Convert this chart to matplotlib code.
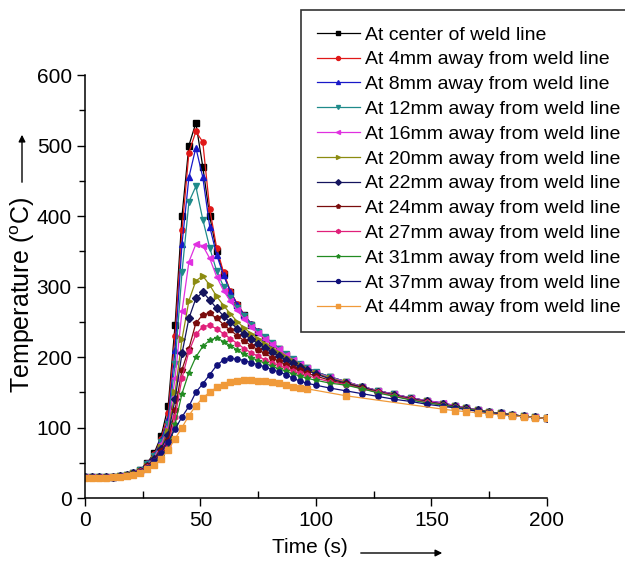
import matplotlib
matplotlib.use("Agg")
import matplotlib.pyplot as plt
from matplotlib.patches import FancyArrowPatch

plt.rcParams['font.family'] = ['Liberation Sans', 'DejaVu Sans']

# time (s)
t = [0, 3, 6, 9, 12, 15, 18, 21, 24, 27, 30, 33, 36, 39, 42, 45, 48, 51, 54, 57,
     60, 63, 66, 69, 72, 75, 78, 81, 84, 87, 90, 93, 96,
     100, 106, 113, 120, 127, 134, 141, 148, 155,
     160, 165, 170, 175, 180, 185, 190, 195, 200]
t_44 = [0, 3, 6, 9, 12, 15, 18, 21, 24, 27, 30, 33, 36, 39, 42, 45, 48, 51, 54, 57,
        60, 63, 66, 69, 72, 75, 78, 81, 84, 87, 90, 93, 96,
        113, 155, 160, 165, 170, 175, 180, 185, 190, 195, 200]

# temperature (C)
T_0 = [30, 30, 30, 30, 30, 31, 32, 35, 40, 50, 64, 88, 130, 245, 400, 500, 532, 470, 400, 350,
       318, 292, 274, 259, 246, 236, 227, 219, 211, 203, 196, 189, 184,
       178, 171, 165, 158, 152, 147, 142, 138, 134,
       131, 128, 125, 122, 120, 118, 116, 114.5, 113]
T_4 = [30, 30, 30, 30, 30, 31, 32, 35, 40, 49, 62, 84, 120, 230, 380, 490, 520, 505, 410, 355,
       320, 293, 275, 260, 247, 237, 228, 220, 212, 204, 197, 190, 185,
       179, 172, 165, 158, 152, 147, 142, 138, 134,
       131, 128, 125, 122, 120, 118, 116, 114.5, 113]
T_8 = [30, 30, 30, 30, 30, 31, 32, 35, 40, 49, 61, 82, 112, 210, 360, 455, 497, 455, 385, 345,
       316, 292, 274, 259, 247, 237, 228, 220, 212, 204, 197, 190, 185,
       179, 172, 165, 158, 152, 147, 142, 138, 135,
       131, 128, 125, 122, 120, 118, 116, 114.5, 113]
T_12 = [30, 30, 30, 30, 30, 31, 32, 35, 40, 48, 60, 80, 105, 190, 320, 420, 442, 395, 355, 322,
        300, 284, 270, 258, 246, 236, 228, 220, 212, 204, 197, 190, 185,
        179, 172, 165, 158, 152, 147, 142, 138, 134,
        131, 128, 125, 122, 120, 118, 116, 114.5, 113]
T_16 = [30, 30, 30, 30, 30, 31, 32, 35, 39, 47, 58, 76, 100, 170, 265, 335, 360, 358, 340, 314,
        294, 279, 266, 254, 243, 234, 226, 219, 211, 203, 196, 190, 184,
        178, 171, 165, 158, 152, 147, 142, 138, 135,
        131, 128, 125, 122, 120, 118, 116, 114.5, 113]
T_20 = [30, 30, 30, 30, 30, 31, 32, 35, 39, 46, 56, 72, 95, 150, 225, 280, 308, 315, 302, 286,
        273, 261, 250, 241, 233, 226, 219, 212, 206, 200, 194, 188, 183,
        177, 170, 164, 157, 151, 146, 141, 137, 133,
        130, 127, 124.5, 122, 120, 118, 116, 114.5, 113]
T_22 = [30, 30, 30, 30, 30, 31, 32, 35, 39, 46, 55, 70, 90, 140, 205, 255, 283, 292, 281, 269,
        258, 249, 240, 232, 225, 219, 213, 207, 201, 196, 191, 186, 181,
        176, 169, 163, 157, 151, 146, 141, 137, 133,
        130, 127, 124.5, 122, 120, 118, 116, 114.5, 113]
T_24 = [30, 30, 30, 30, 30, 31, 32, 34, 38, 45, 53, 67, 82, 125, 182, 212, 248, 260, 262, 255,
        246, 238, 230, 223, 216, 210, 205, 199, 194, 189, 185, 181, 177,
        173, 167, 162, 156, 150, 145, 140, 136, 132,
        129, 126.5, 124, 121.5, 119.5, 117.5, 115.5, 114, 113]
T_27 = [30, 30, 30, 30, 30, 31, 32, 34, 38, 44, 52, 64, 75, 115, 170, 208, 232, 243, 245, 240,
        233, 226, 219, 212, 206, 201, 196, 192, 188, 184, 180, 177, 174,
        170, 165, 161, 155, 150, 145, 140, 136, 132,
        129, 126.5, 124, 121.5, 119.5, 117.5, 115.5, 114, 113]
T_31 = [30, 30, 30, 30, 30, 31, 32, 34, 37, 43, 50, 60, 70, 105, 148, 178, 200, 215, 224, 227,
        222, 216, 210, 204, 199, 195, 191, 187, 183, 180, 176, 173, 170,
        167, 163, 160, 155, 149, 144, 139, 135, 132,
        129, 126.5, 124, 121.5, 119.5, 117.5, 115.5, 114, 113]
T_37 = [30, 30, 30, 30, 30, 31, 31, 33, 37, 43, 52, 64, 80, 98, 115, 130, 150, 162, 175, 188,
        196, 198, 197, 195, 192, 189, 186, 182, 179, 175, 170, 166, 163,
        160, 156, 152, 148, 144, 140, 137, 133, 130,
        128, 125.5, 123, 121, 119, 117, 115.5, 114, 113]
T_44 = [29, 29, 29, 29, 30, 30, 31, 33, 36, 41, 47, 56, 68, 84, 100, 117, 131, 142, 150, 157,
        161, 164, 166, 167, 167, 166.5, 166, 165, 163, 161, 158, 156, 155,
        145, 126, 124, 122.5, 121, 119.5, 118, 116.5, 115.5, 114, 113]

labels = ["At center of weld line", "At 4mm away from weld line", "At 8mm away from weld line",
          "At 12mm away from weld line", "At 16mm away from weld line", "At 20mm away from weld line",
          "At 22mm away from weld line", "At 24mm away from weld line", "At 27mm away from weld line",
          "At 31mm away from weld line", "At 37mm away from weld line", "At 44mm away from weld line"]

series = [(t, T_0), (t, T_4), (t, T_8), (t, T_12), (t, T_16), (t, T_20),
          (t, T_22), (t, T_24), (t, T_27), (t, T_31), (t, T_37), (t_44, T_44)]
colors = ['#000000', '#e01818', '#1818c8', '#1f8a8a', '#e030e0', '#8c8c10',
          '#14145e', '#7a0c0c', '#e0207a', '#228b22', '#10107a', '#f09a3a']
markers = ['s', 'o', '^', 'v', '<', '>', 'D', 'p', 'h', '*', 'o', 's']

fig = plt.figure(figsize=(6.25, 5.64), dpi=100)
ax = fig.add_axes([0.136, 0.117, 0.739, 0.75])

for (x, y), c, m, lab in zip(series, colors, markers, labels):
    ax.plot(x, y, color=c, marker=m, markersize=3.8, linewidth=0.9, label=lab)

ax.set_xlim(0, 200)
ax.set_ylim(0, 600)
ax.set_xticks([0, 50, 100, 150, 200])
ax.set_xticks([25, 75, 125, 175], minor=True)
ax.set_yticks(range(0, 601, 100))
ax.set_yticks(range(50, 600, 100), minor=True)
ax.spines['top'].set_visible(False)
ax.spines['right'].set_visible(False)
ax.spines['left'].set_linewidth(1.1)
ax.spines['bottom'].set_linewidth(1.1)
ax.tick_params(axis='both', which='major', direction='out', length=6, width=1, labelsize=15)
ax.tick_params(axis='x', which='minor', direction='in', length=5, width=1)
ax.tick_params(axis='y', which='minor', direction='out', length=4, width=1)

ax.set_xlabel("Time (s)", fontsize=15)
ax.set_ylabel(r"Temperature ($\mathregular{^o}$C)", fontsize=18)
ax.xaxis.set_label_coords(0.487, -0.095)
ax.yaxis.set_label_coords(-0.104, 0.48)

# arrows next to axis titles
fig.add_artist(FancyArrowPatch((358 / 625, 1 - 553 / 564), (445 / 625, 1 - 553 / 564),
               transform=fig.transFigure, arrowstyle='-|>', mutation_scale=10, color='black', lw=1))
fig.add_artist(FancyArrowPatch((22 / 625, 1 - 185 / 564), (22 / 625, 1 - 132 / 564),
               transform=fig.transFigure, arrowstyle='-|>', mutation_scale=10, color='black', lw=1))

leg = ax.legend(loc='upper left', bbox_to_anchor=(301 / 625, 1 - 10 / 564), bbox_transform=fig.transFigure,
                fontsize=14, frameon=True, fancybox=False, edgecolor='black', borderaxespad=0,
                handlelength=2.2, handletextpad=0.25, labelspacing=0.37, borderpad=0.82,
                markerscale=0.75)
leg.get_frame().set_linewidth(1.2)

fig.savefig("out.png", dpi=100)
